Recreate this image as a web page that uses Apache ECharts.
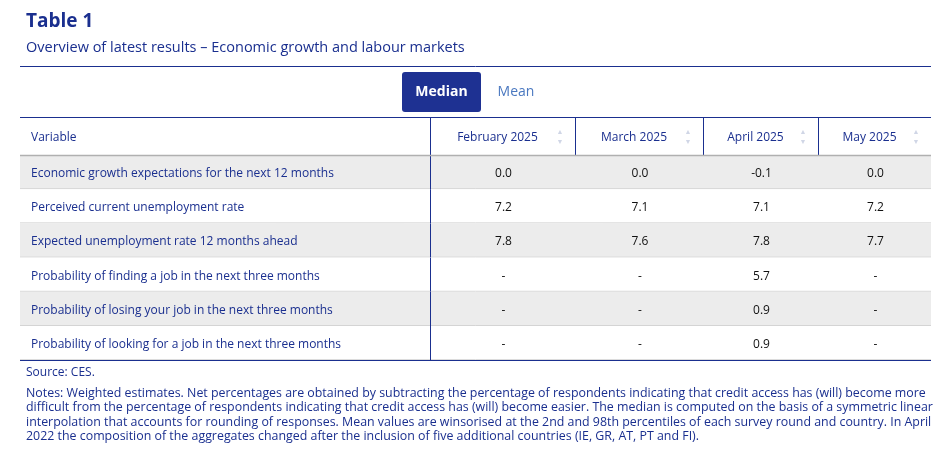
<!DOCTYPE html>
<html><head><meta charset="utf-8">
<script src="https://cdn.jsdelivr.net/npm/echarts@6/dist/echarts.min.js"></script>
<style>html,body{margin:0;padding:0;background:#fff}#c{width:951px;height:458px}</style>
</head><body><div id="c"></div>
<script>
const variables = [
  "Economic growth expectations for the next 12 months",
  "Perceived current unemployment rate",
  "Expected unemployment rate 12 months ahead",
  "Probability of finding a job in the next three months",
  "Probability of losing your job in the next three months",
  "Probability of looking for a job in the next three months"
];
const months = ["February 2025", "March 2025", "April 2025", "May 2025"];
const feb = ["0.0", "7.2", "7.8", "-", "-", "-"];
const mar = ["0.0", "7.1", "7.6", "-", "-", "-"];
const apr = ["-0.1", "7.1", "7.8", "5.7", "0.9", "0.9"];
const may = ["0.0", "7.2", "7.7", "-", "-", "-"];
const cols = [feb, mar, apr, may];

const BLUE = '#1a2f8f', FONT = '"Open Sans", sans-serif';
const colEdges = [20, 430, 575, 703, 818, 931]; // layout
const L = 20, R = 931, TOP = 155, RH = 34.2;

const chart = echarts.init(document.getElementById('c'));
const graphics = [
  {type:'text', left:26, top:12, style:{text:'Table 1', font:'bold 19px '+FONT, fill:BLUE}},
  {type:'text', left:26, top:40, style:{text:'Overview of latest results – Economic growth and labour markets', font:'14.5px '+FONT, fill:BLUE}},
  {type:'line', shape:{x1:L,y1:66.5,x2:R,y2:66.5}, style:{stroke:BLUE,lineWidth:1}},
  {type:'rect', shape:{x:402,y:72,width:79,height:40,r:3}, style:{fill:'#1e3192'}},
  {type:'text', x:441.5, y:92, style:{text:'Median', font:'bold 14px '+FONT, fill:'#fff', align:'center', verticalAlign:'middle'}},
  {type:'text', x:516, y:92, style:{text:'Mean', font:'14px '+FONT, fill:'#4a78c0', align:'center', verticalAlign:'middle'}},
  {type:'line', shape:{x1:L,y1:117.5,x2:R,y2:117.5}, style:{stroke:BLUE,lineWidth:1.2}},
  {type:'text', x:31, y:137.5, style:{text:'Variable', font:'12px '+FONT, fill:BLUE, verticalAlign:'middle'}},
  {type:'line', shape:{x1:L,y1:155.5,x2:R,y2:155.5}, style:{stroke:'#b0b0b0',lineWidth:1.5}, z:10},
  {type:'line', shape:{x1:L,y1:360.5,x2:R,y2:360.5}, style:{stroke:BLUE,lineWidth:1.2}, z:10},
  {type:'text', left:26, top:367, style:{text:'Source: CES.', font:'12px '+FONT, fill:BLUE}},
  {type:'text', left:26, top:386, style:{text:'Notes: Weighted estimates. Net percentages are obtained by subtracting the percentage of respondents indicating that credit access has (will) become more\ndifficult from the percentage of respondents indicating that credit access has (will) become easier. The median is computed on the basis of a symmetric linear\ninterpolation that accounts for rounding of responses. Mean values are winsorised at the 2nd and 98th percentiles of each survey round and country. In April\n2022 the composition of the aggregates changed after the inclusion of five additional countries (IE, GR, AT, PT and FI).', font:'12.4px '+FONT, fill:BLUE, lineHeight:14.5}}
];
months.forEach((m,i)=>{
  const x0 = colEdges[i+1], x1 = colEdges[i+2];
  graphics.push({type:'line', shape:{x1:x0+0.5,y1:118,x2:x0+0.5,y2:155}, style:{stroke:BLUE,lineWidth:1}});
  graphics.push({type:'text', x:(x0+x1)/2-5, y:137.5, style:{text:m, font:'12px '+FONT, fill:BLUE, align:'center', verticalAlign:'middle'}});
  graphics.push({type:'text', x:x1-15, y:132, style:{text:'▲', font:'7px sans-serif', fill:'#d0d6e6', align:'center', verticalAlign:'middle'}});
  graphics.push({type:'text', x:x1-15, y:142, style:{text:'▼', font:'7px sans-serif', fill:'#d0d6e6', align:'center', verticalAlign:'middle'}});
});

chart.setOption({
  animation:false,
  graphic:graphics,
  grid:{left:L, top:TOP, width:R-L, height:RH*variables.length},
  xAxis:{type:'value', min:0, max:1, show:false},
  yAxis:{type:'category', data:variables, inverse:true, show:false},
  series:[{
    type:'custom',
    data:variables.map((v,i)=>[0,i]),
    renderItem:function(params, api){
      const i = api.value(1);
      const c = api.coord([0,i]);
      const h = api.size([0,1])[1];
      const cs = params.coordSys;
      const y0 = c[1]-h/2;
      const ty = c[1]+1.5;
      const children = [
        {type:'rect', shape:{x:cs.x,y:y0,width:cs.width,height:h}, style:{fill: i%2===0?'#ececec':'#ffffff'}},
        {type:'line', shape:{x1:cs.x,y1:y0+h-0.5,x2:cs.x+cs.width,y2:y0+h-0.5}, style:{stroke:'#d4d4d4',lineWidth:1}},
        {type:'line', shape:{x1:colEdges[1]+0.5,y1:y0,x2:colEdges[1]+0.5,y2:y0+h}, style:{stroke:BLUE,lineWidth:1}},
        {type:'text', x:31, y:ty, style:{text:variables[i], font:'12px '+FONT, fill:BLUE, verticalAlign:'middle'}}
      ];
      cols.forEach((col,j)=>{
        children.push({type:'text', x:(colEdges[j+1]+colEdges[j+2])/2+1, y:ty, style:{text:col[i], font:'12px '+FONT, fill:'#111', align:'center', verticalAlign:'middle'}});
      });
      return {type:'group', children};
    }
  }]
});
</script></body></html>
